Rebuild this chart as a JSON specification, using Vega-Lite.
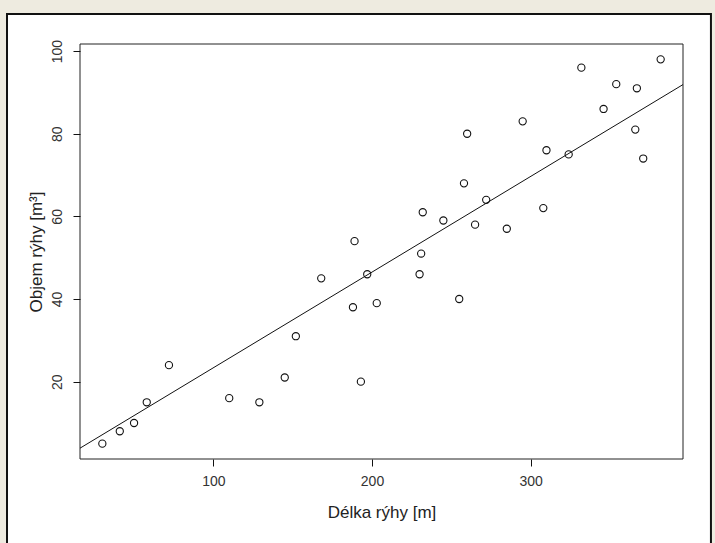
{
  "$schema": "https://vega.github.io/schema/vega-lite/v6.json",
  "width": 603,
  "height": 415,
  "autosize": {"type": "none"},
  "padding": {"left": 80, "top": 44, "right": 32, "bottom": 84},
  "background": "#EEEBE0",
  "config": {
    "view": {"stroke": null},
    "font": "Liberation Sans",
    "axis": {
      "grid": false,
      "domain": false,
      "ticks": true,
      "tickColor": "#111111",
      "tickSize": 7,
      "tickWidth": 1,
      "labelFont": "Liberation Sans",
      "labelFontSize": 14,
      "labelColor": "#333333",
      "titleFont": "Liberation Sans",
      "titleFontSize": 17,
      "titleFontWeight": "normal",
      "titleColor": "#222222"
    },
    "axisX": {"labelPadding": 8, "titlePadding": 16},
    "axisY": {"labelAngle": -90, "labelAlign": "center", "labelBaseline": "bottom", "labelPadding": 9, "titlePadding": 5}
  },
  "datasets": {
    "points": [
      {"delka": 30, "objem": 5},
      {"delka": 41, "objem": 8},
      {"delka": 50, "objem": 10},
      {"delka": 58, "objem": 15},
      {"delka": 72, "objem": 24},
      {"delka": 110, "objem": 16},
      {"delka": 129, "objem": 15},
      {"delka": 145, "objem": 21},
      {"delka": 152, "objem": 31},
      {"delka": 168, "objem": 45},
      {"delka": 189, "objem": 54},
      {"delka": 188, "objem": 38},
      {"delka": 193, "objem": 20},
      {"delka": 197, "objem": 46},
      {"delka": 203, "objem": 39},
      {"delka": 231, "objem": 51},
      {"delka": 230, "objem": 46},
      {"delka": 232, "objem": 61},
      {"delka": 255, "objem": 40},
      {"delka": 245, "objem": 59},
      {"delka": 258, "objem": 68},
      {"delka": 260, "objem": 80},
      {"delka": 265, "objem": 58},
      {"delka": 272, "objem": 64},
      {"delka": 285, "objem": 57},
      {"delka": 295, "objem": 83},
      {"delka": 308, "objem": 62},
      {"delka": 310, "objem": 76},
      {"delka": 324, "objem": 75},
      {"delka": 332, "objem": 96},
      {"delka": 346, "objem": 86},
      {"delka": 354, "objem": 92},
      {"delka": 366, "objem": 81},
      {"delka": 367, "objem": 91},
      {"delka": 371, "objem": 74},
      {"delka": 382, "objem": 98}
    ],
    "fit": [
      {"delka": 15.92, "objem": 3.9},
      {"delka": 396.08, "objem": 91.9}
    ]
  },
  "layer": [
    {
      "data": {"values": [{"panel": "frame"}]},
      "mark": {"type": "rect", "fill": "white", "stroke": "#111111", "strokeWidth": 2, "clip": false},
      "encoding": {
        "x": {"datum": -30.1, "type": "quantitative", "scale": {"domain": [15.92, 396.08], "nice": false, "zero": false}},
        "x2": {"datum": 413.7},
        "y": {"datum": 108.98, "type": "quantitative", "scale": {"domain": [1.28, 101.72], "nice": false, "zero": false}},
        "y2": {"datum": -19.8}
      }
    },
    {
      "data": {"values": [{"panel": "box"}]},
      "mark": {"type": "rect", "fill": null, "stroke": "#222222", "strokeWidth": 1, "clip": false},
      "encoding": {
        "x": {"datum": 15.92, "type": "quantitative", "scale": {"domain": [15.92, 396.08], "nice": false, "zero": false}},
        "x2": {"datum": 396.08},
        "y": {"datum": 101.72, "type": "quantitative", "scale": {"domain": [1.28, 101.72], "nice": false, "zero": false}},
        "y2": {"datum": 1.28}
      }
    },
    {
      "data": {"name": "fit"},
      "mark": {"type": "line", "color": "#111111", "strokeWidth": 1, "clip": true},
      "encoding": {
        "x": {"field": "delka", "type": "quantitative", "scale": {"domain": [15.92, 396.08], "nice": false, "zero": false}},
        "y": {"field": "objem", "type": "quantitative", "scale": {"domain": [1.28, 101.72], "nice": false, "zero": false}}
      }
    },
    {
      "data": {"name": "points"},
      "mark": {"type": "point", "shape": "circle", "filled": false, "color": "#111111", "strokeWidth": 1.1, "size": 52, "opacity": 1},
      "encoding": {
        "x": {"field": "delka", "type": "quantitative", "scale": {"domain": [15.92, 396.08], "nice": false, "zero": false}, "axis": {"title": "Délka rýhy [m]", "values": [100, 200, 300], "zindex": 2, "ticks": true, "tickSize": 7, "tickColor": "#111111"}},
        "y": {"field": "objem", "type": "quantitative", "scale": {"domain": [1.28, 101.72], "nice": false, "zero": false}, "axis": {"title": "Objem rýhy [m³]", "values": [20, 40, 60, 80, 100], "zindex": 2, "ticks": true, "tickSize": 7, "tickColor": "#111111"}}
      }
    }
  ]
}
